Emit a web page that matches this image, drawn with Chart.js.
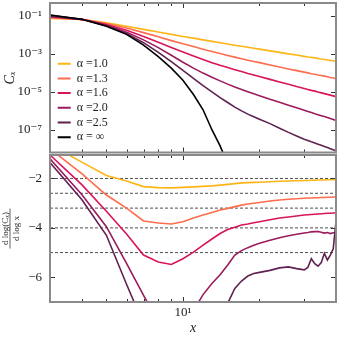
<!DOCTYPE html>
<html>
<head>
<meta charset="utf-8">
<script src="https://cdn.jsdelivr.net/npm/chart.js@4.4.0/dist/chart.umd.min.js"></script>
<style>
  html, body { margin: 0; padding: 0; background: #fff; }
  #wrap { position: relative; width: 338px; height: 338px; }
  #wrap canvas { position: absolute; left: 0; }
</style>
</head>
<body>
<div id="wrap">
  <canvas id="topChart" width="338" height="154" style="top:0"></canvas>
  <canvas id="bottomChart" width="338" height="184" style="top:154px"></canvas>
</div>
<script>
// x positions (distance)
const xs = [3, 4, 5, 6, 7, 8, 9, 10, 11, 12, 13, 14, 15, 16, 17, 18, 19, 20, 22, 24, 26, 28, 30, 31, 32, 33, 34, 35, 36, 37, 38, 39, 40];

const seriesLabels = ['α =1.0', 'α =1.3', 'α =1.6', 'α =2.0', 'α =2.5', 'α = ∞'];
const seriesColors = ['#fdb515', '#fd6c4c', '#d8145a', '#9c1a5c', '#5f2151', '#000000'];

// top panel: log10(C_x)
const logC_10 = [-1.14, -1.19, -1.37, -1.55, -1.72, -1.86, -1.98, -2.09, -2.18, -2.27, -2.35, -2.42, -2.49, -2.55, -2.61, -2.66, -2.71, -2.76, -2.85, -2.93, -3.01, -3.07, -3.14, -3.17, -3.19, -3.22, -3.25, -3.28, -3.30, -3.33, -3.35, -3.37, -3.40];
const logC_13 = [-1.10, -1.19, -1.41, -1.65, -1.89, -2.11, -2.31, -2.48, -2.62, -2.76, -2.88, -2.99, -3.09, -3.18, -3.26, -3.34, -3.41, -3.47, -3.59, -3.70, -3.80, -3.89, -3.97, -4.01, -4.05, -4.08, -4.12, -4.15, -4.18, -4.21, -4.25, -4.28, -4.32];
const logC_16 = [-1.06, -1.19, -1.46, -1.77, -2.09, -2.40, -2.67, -2.91, -3.12, -3.31, -3.47, -3.61, -3.73, -3.84, -3.94, -4.04, -4.12, -4.20, -4.35, -4.49, -4.61, -4.73, -4.83, -4.88, -4.93, -4.97, -5.02, -5.06, -5.10, -5.14, -5.18, -5.22, -5.26];
const logC_20 = [-1.02, -1.19, -1.50, -1.87, -2.27, -2.68, -3.08, -3.45, -3.76, -4.02, -4.24, -4.43, -4.60, -4.75, -4.88, -5.00, -5.11, -5.21, -5.40, -5.56, -5.71, -5.85, -5.98, -6.04, -6.10, -6.16, -6.21, -6.26, -6.31, -6.36, -6.41, -6.46, -6.51];
const logC_25 = [-0.98, -1.19, -1.53, -1.95, -2.42, -2.93, -3.42, -3.88, -4.30, -4.68, -5.01, -5.31, -5.57, -5.81, -6.01, -6.18, -6.32, -6.45, -6.68, -6.92, -7.14, -7.33, -7.50, -7.57, -7.64, -7.70, -7.76, -7.82, -7.88, -7.94, -8.00, -8.06, -8.12];
const logC_inf = [-0.96, -1.19, -1.55, -1.98, -2.55, -3.15, -3.76, -4.40, -5.15, -5.95, -7.00, -7.85, -8.80, null, null, null, null, null, null, null, null, null, null, null, null, null, null, null, null, null, null, null, null];

// bottom panel: d log(C_x) / d log x
const slope_10 = [-0.62, -1.34, -1.88, -2.10, -2.33, -2.37, -2.38, -2.36, -2.34, -2.32, -2.30, -2.27, -2.24, -2.21, -2.18, -2.17, -2.16, -2.15, -2.13, -2.11, -2.10, -2.09, -2.08, -2.08, -2.07, -2.07, -2.06, -2.06, -2.06, -2.05, -2.05, -2.05, -2.04];
const slope_13 = [-0.80, -1.80, -2.67, -3.20, -3.72, -3.80, -3.84, -3.75, -3.60, -3.48, -3.38, -3.28, -3.21, -3.14, -3.08, -3.03, -3.00, -2.97, -2.91, -2.87, -2.84, -2.82, -2.80, -2.79, -2.79, -2.78, -2.78, -2.77, -2.77, -2.76, -2.76, -2.75, -2.75];
const slope_16 = [-1.05, -2.25, -3.33, -4.25, -5.10, -5.38, -5.48, -5.25, -4.98, -4.70, -4.45, -4.23, -4.07, -3.97, -3.88, -3.84, -3.79, -3.75, -3.67, -3.60, -3.56, -3.52, -3.48, -3.47, -3.46, -3.45, -3.44, -3.43, -3.42, -3.41, -3.41, -3.40, -3.40];
const slope_20 = [-1.20, -2.65, -3.95, -5.44, -6.73, -7.80, -8.50, -8.20, -7.35, -6.70, -6.25, -5.90, -5.50, -5.10, -4.92, -4.80, -4.70, -4.62, -4.50, -4.40, -4.32, -4.26, -4.21, -4.19, -4.16, -4.15, -4.15, -4.18, -4.21, -4.19, -4.23, -4.20, -4.20];
const slope_25 = [-1.35, -2.85, -4.30, -6.28, -7.90, -9.00, -9.60, -9.90, -9.90, -9.60, -9.00, -8.20, -7.05, -6.45, -6.15, -5.95, -5.85, -5.80, -5.72, -5.62, -5.58, -5.65, -5.70, -5.60, -5.25, -5.45, -5.55, -5.40, -5.03, -5.30, -5.10, -4.85, -3.75];

// dashed reference levels
const asymptotes = [-2, -2.6, -3.2, -4, -5];

// ticks
const xTickValues = [3, 4, 5, 6, 7, 8, 9, 10, 20, 30, 40];
const xMajorTicks = [10];
const topYTickExps = [-1, -3, -5, -7];
const bottomYTicks = [-2, -4, -6];

const FONT = "'Liberation Serif', 'DejaVu Serif', serif";
const TEXT = '#222';

const supMap = {'-': '⁻', '0': '⁰', '1': '¹', '2': '²', '3': '³', '4': '⁴', '5': '⁵', '6': '⁶', '7': '⁷', '8': '⁸', '9': '⁹'};
const sup = n => String(n).split('').map(c => supMap[c]).join('');

const topSeries = [logC_10, logC_13, logC_16, logC_20, logC_25, logC_inf];
const bottomSeries = [slope_10, slope_13, slope_16, slope_20, slope_25];

// no extra room for overhanging tick labels, the axes box is fixed
function fixWidth(w) {
    return s => { s.width = w; s.paddingTop = 0; s.paddingBottom = 0; };
}
function fixHeight(h) {
    return s => { s.height = h; s.paddingLeft = 0; s.paddingRight = 0; };
}

// inward ticks + grey frame, like the matplotlib style of the original
function frameTicks(yTickValues) {
    return {
        id: 'frameTicks',
        afterDraw(chart) {
            const { ctx, chartArea: a } = chart;
            const sx = chart.scales.x, sy = chart.scales.y;
            ctx.save();
            ctx.strokeStyle = '#333';
            ctx.lineWidth = 1;
            ctx.beginPath();
            xTickValues.forEach(v => {
                const px = Math.round(sx.getPixelForValue(v)) + 0.5;
                const len = xMajorTicks.includes(v) ? 5 : 3;
                ctx.moveTo(px, a.bottom); ctx.lineTo(px, a.bottom - len);
                ctx.moveTo(px, a.top); ctx.lineTo(px, a.top + len);
            });
            yTickValues.forEach(v => {
                const py = Math.round(sy.getPixelForValue(v)) + 0.5;
                ctx.moveTo(a.left, py); ctx.lineTo(a.left + 5, py);
                ctx.moveTo(a.right, py); ctx.lineTo(a.right - 5, py);
            });
            ctx.stroke();
            ctx.strokeStyle = '#8a8a8a';
            ctx.lineWidth = 2;
            ctx.strokeRect(a.left, a.top, a.right - a.left, a.bottom - a.top);
            ctx.restore();
        }
    };
}

// move the legend inside the upper panel (lower-left part)
const legendPlace = {
    id: 'legendPlace',
    afterLayout(chart) {
        const lg = chart.legend;
        const h = lg.bottom - lg.top;
        lg.left = 55;
        lg.top = 55;
        lg.bottom = 55 + h;
    }
};

// fraction label of the lower y axis
const fracLabel = {
    id: 'fracLabel',
    afterDraw(chart) {
        const { ctx, chartArea: a } = chart;
        ctx.save();
        ctx.translate(10, (a.top + a.bottom) / 2);
        ctx.rotate(-Math.PI / 2);
        ctx.fillStyle = TEXT;
        ctx.textAlign = 'center';
        ctx.font = '9px ' + FONT;
        ctx.textBaseline = 'alphabetic';
        ctx.fillText('d log(Cₓ)', 0, -2.5);
        ctx.textBaseline = 'top';
        ctx.fillText('d log x', 0, 2);
        ctx.strokeStyle = TEXT;
        ctx.lineWidth = 0.7;
        ctx.beginPath();
        ctx.moveTo(-20, 0); ctx.lineTo(20, 0);
        ctx.stroke();
        ctx.restore();
    }
};

const topDatasets = topSeries.map((s, i) => ({
    label: seriesLabels[i],
    data: xs.map((x, j) => ({ x: x, y: s[j] === null ? null : Math.pow(10, s[j]) })),
    borderColor: seriesColors[i],
    backgroundColor: seriesColors[i],
    borderWidth: 1.6,
    order: 5 - i
}));

const topChart = new Chart(document.getElementById('topChart'), {
    type: 'line',
    data: { datasets: topDatasets },
    options: {
        responsive: false,
        animation: false,
        layout: { padding: { top: 3, right: 2, bottom: 1.5, left: 0 } },
        elements: { point: { radius: 0 }, line: { tension: 0 } },
        plugins: {
            tooltip: { enabled: false },
            legend: {
                position: 'chartArea',
                align: 'start',
                labels: {
                    font: { family: FONT, size: 12 },
                    color: TEXT,
                    boxWidth: 13,
                    boxHeight: 2,
                    padding: 2.7,
                    generateLabels: chart => Chart.defaults.plugins.legend.labels.generateLabels(chart)
                        .map(l => ({ ...l, lineWidth: 0 }))
                        .sort((a, b) => a.datasetIndex - b.datasetIndex)
                }
            }
        },
        scales: {
            x: {
                type: 'logarithmic', min: 3, max: 40,
                ticks: { display: false },
                grid: { display: false },
                border: { display: false },
                afterFit: fixHeight(0)
            },
            y: {
                type: 'logarithmic',
                min: Math.pow(10, -8.2), max: Math.pow(10, -0.33),
                afterBuildTicks: s => { s.ticks = topYTickExps.map(e => ({ value: Math.pow(10, e) })); },
                ticks: {
                    callback: v => '10' + sup(Math.round(Math.log10(v))),
                    font: { family: FONT, size: 13 }, color: TEXT, padding: 8
                },
                grid: { display: false, drawTicks: false },
                border: { display: false },
                title: {
                    display: true, text: 'Cₓ', color: TEXT,
                    font: { family: FONT, size: 14, style: 'italic' },
                    padding: { top: 2, bottom: 0 }
                },
                afterFit: fixWidth(50)
            }
        }
    },
    plugins: [legendPlace, frameTicks(topYTickExps.map(e => Math.pow(10, e)))]
});

const bottomDatasets = bottomSeries.map((s, i) => ({
    label: seriesLabels[i],
    data: xs.map((x, j) => ({ x: x, y: s[j] })),
    borderColor: seriesColors[i],
    borderWidth: 1.6,
    order: 5 - i
})).concat(asymptotes.map(v => ({
    label: 'ref ' + v,
    data: [{ x: xs[0], y: v }, { x: xs[xs.length - 1], y: v }],
    borderColor: '#222',
    borderWidth: 0.8,
    borderDash: [3, 2],
    order: 10
})));

const bottomChart = new Chart(document.getElementById('bottomChart'), {
    type: 'line',
    data: { datasets: bottomDatasets },
    options: {
        responsive: false,
        animation: false,
        layout: { padding: { top: 1, right: 2, bottom: 0, left: 0 } },
        elements: { point: { radius: 0 }, line: { tension: 0 } },
        plugins: { legend: { display: false }, tooltip: { enabled: false } },
        scales: {
            x: {
                type: 'logarithmic', min: 3, max: 40,
                afterBuildTicks: s => { s.ticks = xTickValues.map(v => ({ value: v })); },
                ticks: {
                    autoSkip: false, maxRotation: 0,
                    callback: v => (xMajorTicks.includes(v) ? '10' + sup(1) : ''),
                    font: { family: FONT, size: 13 }, color: TEXT, padding: 3
                },
                grid: { display: false, drawTicks: false },
                border: { display: false },
                title: {
                    display: true, text: 'x', color: TEXT,
                    font: { family: FONT, size: 14, style: 'italic' },
                    padding: { top: 0, bottom: 1 }
                },
                afterFit: fixHeight(36)
            },
            y: {
                min: -7, max: -1.05,
                afterBuildTicks: s => { s.ticks = bottomYTicks.map(v => ({ value: v })); },
                ticks: {
                    callback: v => '−' + Math.abs(v),
                    font: { family: FONT, size: 13 }, color: TEXT, padding: 8
                },
                grid: { display: false, drawTicks: false },
                border: { display: false },
                afterFit: fixWidth(50)
            }
        }
    },
    plugins: [frameTicks(bottomYTicks), fracLabel]
});
</script>
</body>
</html>
